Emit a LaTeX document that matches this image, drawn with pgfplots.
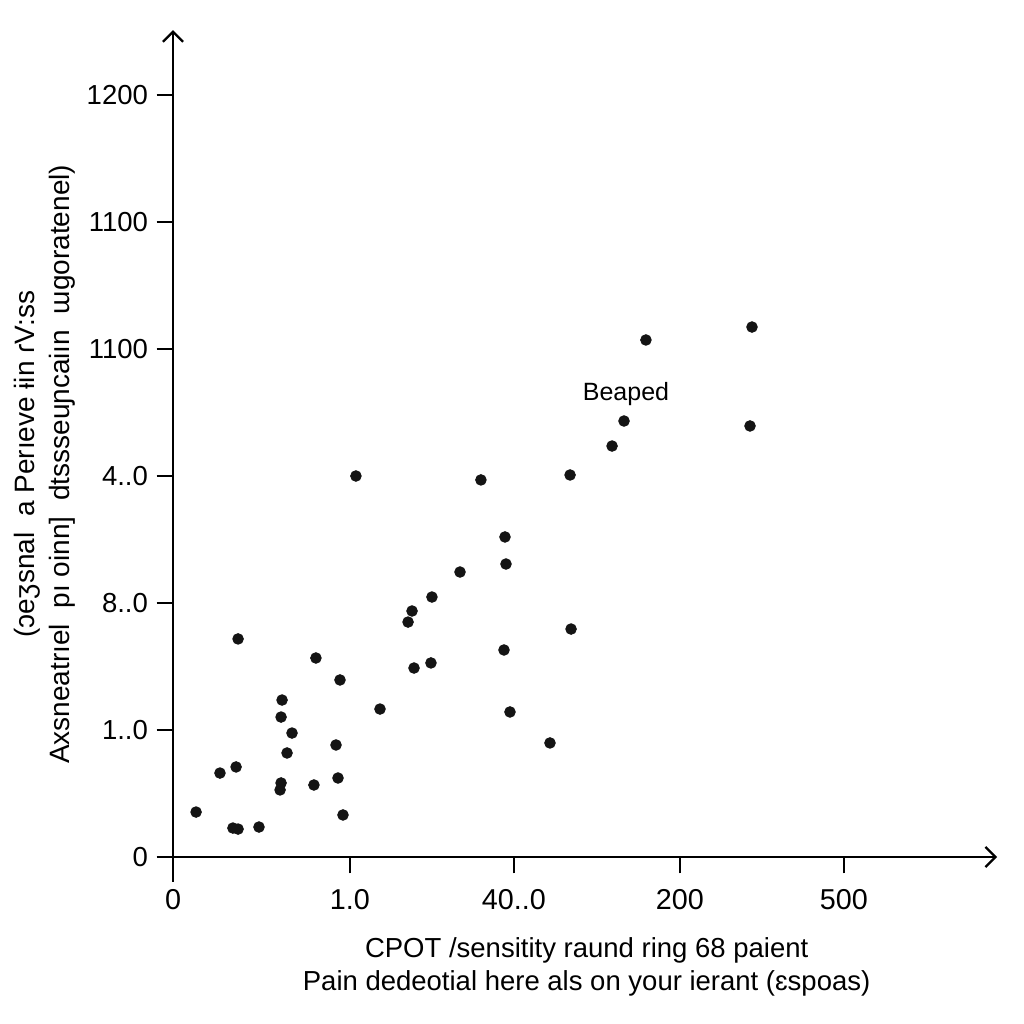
\documentclass[border=0pt]{standalone}
\usepackage{fontspec}
\setmainfont{Liberation Sans}
\usepackage{pgfplots}
\pgfplotsset{compat=1.18}
\usetikzlibrary{arrows.meta}
\begin{document}
\begin{tikzpicture}[x=1pt,y=1pt]
\fill[white] (-69.2,-66.8) rectangle (340.4,342.8);
\path[use as bounding box] (-69.2,-66.8) rectangle (340.4,342.8);
\begin{axis}[
  at={(0,0)}, anchor=south west,
  scale only axis, width=329.6pt, height=330.7pt,
  xmin=0, xmax=4.964, ymin=0, ymax=6.51,
  axis lines=left,
  axis line style={line width=0.9pt, black, -{Straight Barb[length=4pt,width=8pt,line width=0.9pt]}},
  xtick={0,1.066,2.054,3.054,4.042}, ytick={0,1,2,3,4,5,6},
  xticklabels={0,1.0,40..0,200,500},
  yticklabels={0,1..0,8..0,4..0,1100,1100,1200},
  tick align=outside, major tick length=6.5pt,
  tick style={black, line width=0.8pt},
  /pgf/number format/assume math mode=true,
  x tick label style={font=\fontsize{11.5}{13}\selectfont, yshift=-3pt},
  y tick label style={font=\fontsize{11}{13}\selectfont, xshift=0pt},
  xlabel={CPOT /sensitity raund ring 68 paient\\Pain dedeotial here als on your ierant (ɛspoas)},
  xlabel style={at={(axis description cs:0.502,-0.133)}, anchor=center, align=center, font=\fontsize{11}{13}\selectfont},
  ylabel={(ɔeʒsnal \ a Perıeve ɨin ɾV:ss\\Axsneatrıel \ pı oinn] \ dtssseuɲcaiın \ ɯgoratenel)},
  ylabel style={at={(axis description cs:-0.156,0.475)}, anchor=center, align=center, rotate=0, font=\fontsize{11.2}{14}\selectfont},
  clip=false,
]
\draw[line width=0.9pt] (axis cs:0,0) -- (axis cs:0,-0.2);
\draw[line width=0.9pt] (axis cs:-0.05,0) -- (axis cs:0,0);
\addplot[only marks, mark=*, mark size=2.1pt, color=black!92] coordinates {
(0.139,0.354) (0.283,0.661) (0.380,0.709) (0.361,0.228) (0.392,0.220)
(0.392,1.717) (0.518,0.236) (0.645,0.528) (0.651,0.583) (0.651,1.102)
(0.657,1.236) (0.687,0.819) (0.717,0.976) (0.849,0.567) (0.861,1.567)
(0.982,0.882) (0.994,0.622) (1.006,1.394) (1.024,0.331) (1.102,3.000)
(1.247,1.165) (1.416,1.850) (1.440,1.937) (1.452,1.488) (1.560,2.047)
(1.554,1.528) (1.729,2.244) (1.855,2.969) (2.000,2.520) (2.006,2.307)
(1.994,1.630) (2.030,1.142) (2.271,0.898) (2.392,3.008) (2.398,1.795)
(2.645,3.236) (2.717,3.433) (2.849,4.071) (3.476,3.394) (3.488,4.173)
};
\node[font=\fontsize{10}{12}\selectfont] at (axis cs:2.729,3.646) {Beaped};
\end{axis}
\end{tikzpicture}
\end{document}
